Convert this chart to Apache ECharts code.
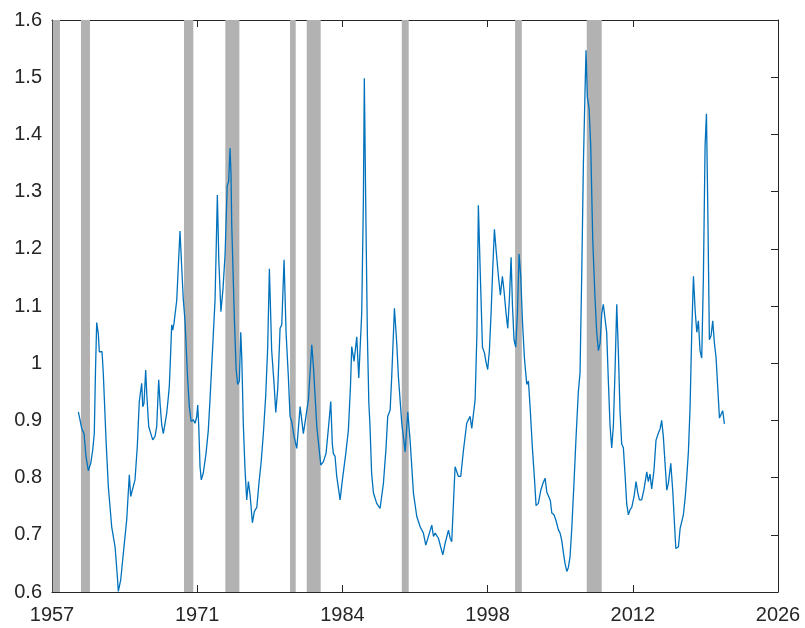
<!DOCTYPE html>
<html lang="en">
<head>
  <meta charset="UTF-8">
  <title>Chart</title>
  <script src="https://cdn.jsdelivr.net/npm/echarts@6/dist/echarts.min.js"></script>
</head>
<body style="margin:0;background:#fff">
  <div id="main" style="width:805px;height:628px"></div>
  <script>
    // series, in decimal years
    var years = [
      1959.31, 1959.47, 1959.63, 1959.70, 1959.85, 1960.04, 1960.26, 1960.49, 1960.68, 1960.83,
      1960.95, 1961.06, 1961.21, 1961.31, 1961.44, 1961.57, 1961.69, 1961.95, 1962.17, 1962.49,
      1962.81, 1963.03, 1963.12, 1963.35, 1963.66, 1963.92, 1964.17, 1964.30, 1964.49, 1964.71,
      1964.93, 1965.12, 1965.26, 1965.35, 1965.45, 1965.57, 1965.73, 1965.83, 1966.02, 1966.21,
      1966.40, 1966.62, 1966.78, 1966.97, 1967.10, 1967.26, 1967.41, 1967.57, 1967.73, 1967.89,
      1967.98, 1968.12, 1968.21, 1968.31, 1968.43, 1968.69, 1968.84, 1969.00, 1969.16, 1969.32,
      1969.48, 1969.72, 1969.89, 1970.06, 1970.27, 1970.43, 1970.59, 1970.69, 1970.79, 1970.91,
      1971.03, 1971.22, 1971.48, 1971.70, 1971.86, 1972.02, 1972.18, 1972.34, 1972.45, 1972.56,
      1972.70, 1972.90, 1973.10, 1973.30, 1973.50, 1973.64, 1973.77, 1973.86, 1973.93, 1974.19,
      1974.35, 1974.50, 1974.66, 1974.79, 1974.89, 1975.04, 1975.20, 1975.36, 1975.52, 1975.68,
      1975.90, 1976.09, 1976.32, 1976.54, 1976.73, 1976.95, 1977.17, 1977.36, 1977.52, 1977.74,
      1977.97, 1978.13, 1978.32, 1978.54, 1978.70, 1978.92, 1979.11, 1979.33, 1979.49, 1979.65,
      1979.87, 1980.13, 1980.45, 1980.76, 1980.92, 1981.24, 1981.56, 1981.72, 1982.04, 1982.42,
      1982.67, 1982.92, 1983.17, 1983.37, 1983.52, 1983.62, 1983.78, 1983.94, 1984.26, 1984.48,
      1984.80, 1985.05, 1985.25, 1985.37, 1985.59, 1985.85, 1986.04, 1986.17, 1986.32, 1986.48,
      1986.57, 1986.70, 1986.86, 1987.00, 1987.10, 1987.27, 1987.44, 1987.75, 1988.07, 1988.39,
      1988.64, 1988.80, 1989.03, 1989.18, 1989.44, 1989.66, 1989.82, 1990.14, 1990.46, 1990.71,
      1990.93, 1991.25, 1991.57, 1991.89, 1992.20, 1992.43, 1992.59, 1993.00, 1993.16, 1993.32,
      1993.63, 1993.79, 1994.05, 1994.27, 1994.59, 1994.75, 1994.90, 1995.22, 1995.38, 1995.54,
      1995.76, 1996.02, 1996.33, 1996.65, 1996.81, 1997.13, 1997.30, 1997.44, 1997.63, 1997.83,
      1998.02, 1998.17, 1998.33, 1998.49, 1998.65, 1998.81, 1998.97, 1999.13, 1999.35, 1999.54,
      1999.73, 1999.89, 2000.08, 2000.24, 2000.40, 2000.56, 2000.69, 2000.84, 2001.00, 2001.16,
      2001.32, 2001.48, 2001.64, 2001.83, 2002.05, 2002.21, 2002.37, 2002.59, 2002.78, 2002.94,
      2003.16, 2003.39, 2003.60, 2003.80, 2003.96, 2004.12, 2004.30, 2004.44, 2004.65, 2004.84,
      2005.06, 2005.23, 2005.40, 2005.55, 2005.70, 2005.87, 2006.02, 2006.18, 2006.34, 2006.56,
      2006.75, 2006.97, 2007.13, 2007.29, 2007.45, 2007.61, 2007.70, 2007.83, 2007.99, 2008.15,
      2008.34, 2008.56, 2008.72, 2008.88, 2009.04, 2009.20, 2009.35, 2009.51, 2009.67, 2009.83,
      2009.99, 2010.15, 2010.31, 2010.47, 2010.63, 2010.78, 2010.94, 2011.10, 2011.26, 2011.42,
      2011.58, 2011.74, 2011.90, 2012.06, 2012.28, 2012.47, 2012.63, 2012.79, 2013.01, 2013.23,
      2013.49, 2013.64, 2013.80, 2013.96, 2014.18, 2014.37, 2014.60, 2014.76, 2014.91, 2015.07,
      2015.23, 2015.40, 2015.55, 2015.78, 2015.97, 2016.26, 2016.51, 2016.67, 2016.98, 2017.15,
      2017.30, 2017.46, 2017.62, 2017.78, 2017.94, 2018.10, 2018.26, 2018.41, 2018.57, 2018.73,
      2018.89, 2019.05, 2019.18, 2019.30, 2019.46, 2019.62, 2019.78, 2019.94, 2020.10, 2020.26,
      2020.42, 2020.58, 2020.73, 2020.89
    ]
    var values = [
      0.915, 0.901, 0.886, 0.889, 0.877, 0.837, 0.812, 0.825, 0.848, 0.877,
      0.990, 1.071, 1.052, 1.020, 1.017, 1.020, 0.982, 0.866, 0.784, 0.714,
      0.679, 0.627, 0.601, 0.621, 0.679, 0.726, 0.805, 0.767, 0.770, 0.796,
      0.854, 0.933, 0.936, 0.965, 0.924, 0.930, 0.988, 0.947, 0.889, 0.886,
      0.866, 0.872, 0.889, 0.971, 0.930, 0.892, 0.877, 0.880, 0.912, 0.941,
      0.959, 1.023, 1.067, 1.058, 1.070, 1.110, 1.169, 1.231, 1.169, 1.110,
      1.074, 0.975, 0.924, 0.898, 0.901, 0.895, 0.906, 0.927, 0.889, 0.819,
      0.796, 0.808, 0.842, 0.883, 0.936, 0.994, 1.052, 1.110, 1.200, 1.294,
      1.180, 1.090, 1.130, 1.191, 1.310, 1.318, 1.376, 1.332, 1.243, 1.074,
      0.989, 0.963, 0.969, 1.054, 1.009, 0.891, 0.813, 0.761, 0.793, 0.770,
      0.721, 0.741, 0.748, 0.793, 0.826, 0.878, 0.943, 1.028, 1.165, 1.022,
      0.963, 0.914, 0.956, 1.061, 1.067, 1.181, 1.054, 0.976, 0.907, 0.898,
      0.872, 0.851, 0.924, 0.877, 0.874, 0.936, 1.032, 0.994, 0.889, 0.822,
      0.828, 0.842, 0.891, 0.933, 0.859, 0.842, 0.837, 0.802, 0.761, 0.796,
      0.842, 0.883, 0.960, 1.029, 1.003, 1.046, 0.974, 0.974, 1.087, 1.283,
      1.498, 1.283, 1.050, 0.930, 0.895, 0.806, 0.773, 0.755, 0.746, 0.790,
      0.852, 0.907, 0.918, 0.976, 1.096, 1.035, 0.976, 0.895, 0.845, 0.915,
      0.866, 0.773, 0.732, 0.714, 0.703, 0.682, 0.679, 0.717, 0.697, 0.703,
      0.694, 0.691, 0.665, 0.685, 0.708, 0.694, 0.688, 0.819, 0.822, 0.802,
      0.802, 0.848, 0.895, 0.907, 0.886, 0.936, 1.050, 1.276, 1.152, 1.028,
      1.018, 1.002, 0.989, 1.022, 1.087, 1.165, 1.234, 1.198, 1.152, 1.119,
      1.152, 1.126, 1.087, 1.061, 1.113, 1.185, 1.100, 1.041, 1.028, 1.087,
      1.191, 1.152, 1.074, 1.009, 0.963, 0.969, 0.924, 0.852, 0.800, 0.751,
      0.755, 0.778, 0.790, 0.799, 0.775, 0.772, 0.760, 0.738, 0.735, 0.725,
      0.709, 0.703, 0.689, 0.668, 0.650, 0.636, 0.643, 0.662, 0.710, 0.793,
      0.870, 0.950, 0.983, 1.152, 1.348, 1.478, 1.547, 1.465, 1.446, 1.380,
      1.217, 1.113, 1.054, 1.022, 1.035, 1.087, 1.103, 1.103, 1.054, 0.969,
      0.891, 0.852, 0.891, 0.989, 1.103, 1.022, 0.917, 0.859, 0.852, 0.806,
      0.754, 0.735, 0.744, 0.748, 0.767, 0.793, 0.774, 0.761, 0.761, 0.780,
      0.810, 0.793, 0.806, 0.780, 0.813, 0.865, 0.878, 0.885, 0.900, 0.872,
      0.826, 0.778, 0.790, 0.825, 0.776, 0.676, 0.679, 0.711, 0.735, 0.764,
      0.800, 0.845, 0.924, 1.054, 1.152, 1.093, 1.054, 1.074, 1.022, 1.009,
      1.152, 1.380, 1.436, 1.283, 1.041, 1.048, 1.074, 1.035, 1.009, 0.956,
      0.904, 0.907, 0.917, 0.894
    ]

    // shaded periods [start, end]
    var recessions = [
      [1956.87, 1957.56], [1959.56, 1960.42], [1969.38, 1970.27], [1973.32, 1974.66],
      [1979.49, 1980.03], [1981.08, 1982.41], [1990.14, 1990.80], [2000.94, 2001.58],
      [2007.77, 2009.20]
    ]

    // x axis runs 1956.8 .. 2026, ticks split it into 5 equal steps
    var xTicks = [1956.8, 1970.64, 1984.48, 1998.32, 2012.16, 2026]

    var lineData = years.map(function (y, i) { return [y, values[i]] })
    var areaData = recessions.map(function (r) { return [{ xAxis: r[0] }, { xAxis: r[1] }] })

    var axisColor = '#262626'
    var font = { color: axisColor, fontSize: 20, fontFamily: 'Liberation Sans, Arial, sans-serif' }

    var myChart = echarts.init(document.getElementById('main'))
    var options = {
      animation: false,
      grid: { left: 52, right: 27, top: 20, bottom: 36 },
      xAxis: [
        {
          type: 'value', min: 1956.8, max: 2026, position: 'bottom',
          axisLine: { lineStyle: { color: axisColor, width: 1 } },
          axisTick: { inside: true, length: 7, customValues: xTicks, lineStyle: { color: axisColor } },
          axisLabel: Object.assign({ margin: 13, customValues: xTicks, formatter: function (v) { return Math.round(v) } }, font),
          splitLine: { show: false }
        },
        {
          type: 'value', min: 1956.8, max: 2026, position: 'top',
          axisLine: { lineStyle: { color: axisColor, width: 1 } },
          axisTick: { inside: true, length: 7, customValues: xTicks, lineStyle: { color: axisColor } },
          axisLabel: { show: false },
          splitLine: { show: false }
        }
      ],
      yAxis: [
        {
          type: 'value', min: 0.6, max: 1.6, interval: 0.1, position: 'left',
          axisLine: { show: true, lineStyle: { color: axisColor, width: 1 } },
          axisTick: { show: true, inside: true, length: 7, lineStyle: { color: axisColor } },
          axisLabel: Object.assign({ margin: 10, formatter: function (v) { return +v.toFixed(1) } }, font),
          splitLine: { show: false }
        },
        {
          type: 'value', min: 0.6, max: 1.6, interval: 0.1, position: 'right',
          axisLine: { show: true, lineStyle: { color: axisColor, width: 1 } },
          axisTick: { show: true, inside: true, length: 7, lineStyle: { color: axisColor } },
          axisLabel: { show: false },
          splitLine: { show: false }
        }
      ],
      series: [
        {
          type: 'line', data: [], z: 1, silent: true,
          markArea: { silent: true, itemStyle: { color: '#b2b2b2', opacity: 1 }, data: areaData }
        },
        {
          type: 'line', data: lineData, z: 3, symbol: 'none',
          lineStyle: { color: '#0072BD', width: 1.3 }
        }
      ]
    }
    myChart.setOption(options)
  </script>
</body>
</html>
